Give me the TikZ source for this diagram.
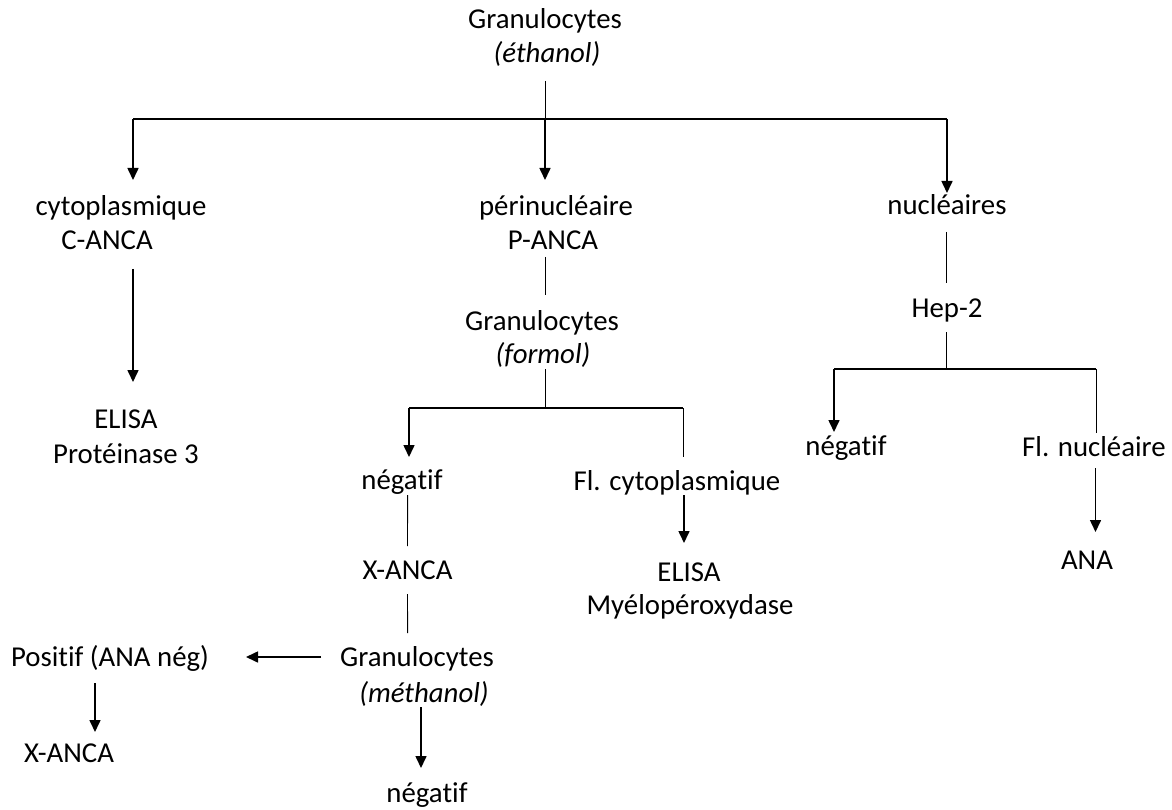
\documentclass[tikz,border=0pt]{standalone}
\usepackage{fontspec}
\setmainfont[Ligatures={NoCommon}]{Carlito}
\usetikzlibrary{calc,arrows.meta}
\begin{document}
\begin{tikzpicture}[x=1pt,y=-1pt,
  lbl/.style={anchor=base,inner sep=0pt,font=\fontsize{28.8}{35}\selectfont},
  ital/.style={lbl,font=\fontsize{28.8}{35}\selectfont\itshape},
  thinln/.style={line width=0.9pt},
  brk/.style={line width=1.3pt},
  arr/.style={line width=1.6pt,-{Triangle[length=12pt,width=11pt]}}]
\useasboundingbox (0,0) rectangle (1172,810);
% nodes
\node[lbl] (g1a) at (545,29) {Granulocytes};
\node[ital] (g1b) at (547,63) {(éthanol)};
\node[lbl] (cyto) at (121,216) {cytoplasmique};
\node[lbl] (canca) at (107,250) {C-ANCA};
\node[lbl] (elisa1) at (126,428) {ELISA};
\node[lbl] (prot) at (126,463) {Protéinase 3};
\node[lbl] (peri) at (556,216) {périnucléaire};
\node[lbl] (panca) at (553,250) {P-ANCA};
\node[lbl] (g2a) at (542,330) {Granulocytes};
\node[ital] (g2b) at (543,363) {(formol)};
\node[lbl] (neg1) at (402,489) {négatif};
\node[lbl] (flcyto) at (677,490) {Fl. cytoplasmique};
\node[lbl] (xanca1) at (407.5,579) {X-ANCA};
\node[lbl] (g3a) at (417,666) {Granulocytes};
\node[ital] (g3b) at (424,702) {(méthanol)};
\node[lbl] (neg2) at (427,802) {négatif};
\node[lbl] (pos) at (110,666) {Positif (ANA nég)};
\node[lbl] (xanca2) at (69,762) {X-ANCA};
\node[lbl] (elisa2) at (689,581) {ELISA};
\node[lbl] (myelo) at (690,614) {Myélopéroxydase};
\node[lbl] (nuc) at (947,215) {nucléaires};
\node[lbl] (hep) at (947,317) {Hep-2};
\node[lbl] (neg3) at (846,455) {négatif};
\node[lbl] (flnuc) at (1094,456) {Fl. nucléaire};
\node[lbl] (ana) at (1087,569) {ANA};
% junctions and bracket corners
\coordinate (j1) at (545,119);
\coordinate (j2) at (545,408);
\coordinate (j3) at (946,369);
\coordinate (c1l) at (133,119);
\coordinate (c1r) at (947,119);
\coordinate (c2l) at (409,408);
\coordinate (c2r) at (683,408);
\coordinate (c3l) at (834,369);
\coordinate (c3r) at (1096,369);
% connectors
\draw[thinln] ($(g1b.base)+(-2,18)$) -- (j1);
\draw[brk] (c1l) -- (c1r);
\draw[arr] (c1l) -- ($(cyto.base)+(12,-36)$);
\draw[arr] (j1) -- ($(peri.base)+(-11,-36)$);
\draw[arr] (c1r) -- ($(nuc.base)+(0,-22)$);
\draw[arr] ($(canca.base)+(26,19)$) -- ($(elisa1.base)+(7,-46)$);
\draw[thinln] ($(panca.base)+(-8,7)$) -- ($(g2a.base)+(3,-35)$);
\draw[thinln] ($(g2b.base)+(2,6)$) -- (j2);
\draw[brk] (c2l) -- (c2r);
\draw[arr] (c2l) -- ($(neg1.base)+(7,-32)$);
\draw[thinln] (c2r) -- ($(flcyto.base)+(6,-33)$);
\draw[thinln] ($(neg1.base)+(5.6,6)$) -- ($(xanca1.base)+(0,-33)$);
\draw[thinln] ($(xanca1.base)+(0,15)$) -- ($(g3a.base)+(-9.4,-33)$);
\draw[arr] ($(g3a.base)+(-96,-9)$) -- ($(pos.base)+(136,-9)$);
\draw[arr] ($(g3b.base)+(-3,5)$) -- ($(neg2.base)+(-6,-34)$);
\draw[arr] ($(pos.base)+(-15,17)$) -- ($(xanca2.base)+(26,-30)$);
\draw[arr] ($(flcyto.base)+(7,5)$) -- ($(elisa2.base)+(-5,-38)$);
\draw[thinln] ($(nuc.base)+(-1,17)$) -- ($(hep.base)+(-1,-34)$);
\draw[thinln] ($(hep.base)+(-1,15)$) -- (j3);
\draw[brk] (c3l) -- (c3r);
\draw[arr] (c3l) -- ($(neg3.base)+(-12,-23)$);
\draw[thinln] (c3r) -- ($(flnuc.base)+(2,-23)$);
\draw[arr] ($(flnuc.base)+(1.5,12)$) -- ($(ana.base)+(8.5,-37)$);
\end{tikzpicture}
\end{document}
